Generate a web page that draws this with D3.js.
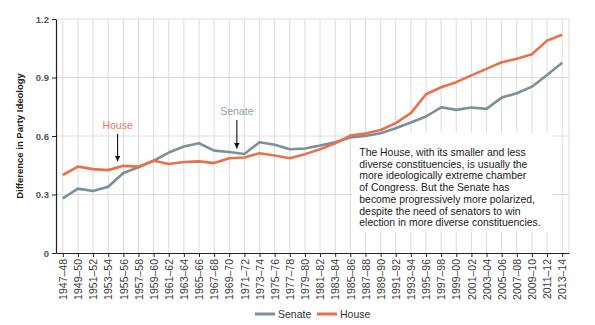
<!DOCTYPE html>
<html>
<head>
<meta charset="utf-8">
<script src="https://cdn.jsdelivr.net/npm/d3@7"></script>
<style>
  body { margin: 0; background: #fff; }
  text { font-family: "Liberation Sans", Arial, sans-serif; }
</style>
</head>
<body>
<div id="chart"></div>
<script>
// congress sessions
var sessions = ["1947–48","1949–50","1951–52","1953–54","1955–56","1957–58","1959–60","1961–62",
  "1963–64","1965–66","1967–68","1969–70","1971–72","1973–74","1975–76","1977–78","1979–80",
  "1981–82","1983–84","1985–86","1987–88","1989–90","1991–92","1993–94","1995–96","1997–98",
  "1999–00","2001–02","2003–04","2005–06","2007–08","2009–10","2011–12","2013–14"];

var senate = [0.28,0.33,0.318,0.34,0.41,0.44,0.473,0.515,0.546,0.563,0.525,0.518,0.508,0.568,
  0.555,0.532,0.536,0.551,0.568,0.592,0.600,0.614,0.640,0.669,0.700,0.747,0.734,0.746,0.739,
  0.797,0.819,0.853,0.913,0.976];

var house = [0.40,0.443,0.43,0.425,0.447,0.443,0.473,0.456,0.467,0.47,0.461,0.486,0.49,0.512,
  0.50,0.486,0.507,0.532,0.563,0.602,0.613,0.631,0.666,0.717,0.814,0.85,0.876,0.911,0.944,
  0.978,0.996,1.019,1.089,1.119];

var yTicks = [0, 0.3, 0.6, 0.9, 1.2];

var senateColor = "#7a909b",
    houseColor = "#e8714b";

var margin = {top: 19, right: 26, bottom: 72, left: 56},
    width = 595 - margin.left - margin.right,
    height = 325 - margin.top - margin.bottom;

var svg = d3.select("#chart")
  .append("svg")
    .attr("width", width + margin.left + margin.right)
    .attr("height", height + margin.top + margin.bottom)
  .append("g")
    .attr("transform", "translate(" + margin.left + "," + margin.top + ")");

var x = d3.scalePoint()
  .domain(sessions)
  .range([0, width])
  .padding(0.45);

var y = d3.scaleLinear()
  .domain([0, 1.2])
  .range([height, 0]);

// grid
svg.append("g")
  .selectAll("line.v")
  .data(sessions)
  .enter().append("line")
    .attr("x1", function(d) { return x(d); })
    .attr("x2", function(d) { return x(d); })
    .attr("y1", 0)
    .attr("y2", height)
    .attr("stroke", "#dcdcdc")
    .attr("stroke-width", 1);

svg.append("g")
  .selectAll("line.h")
  .data(yTicks.slice(1))
  .enter().append("line")
    .attr("x1", 0)
    .attr("x2", width)
    .attr("y1", function(d) { return y(d); })
    .attr("y2", function(d) { return y(d); })
    .attr("stroke", "#dcdcdc")
    .attr("stroke-width", 1);

svg.append("line")
  .attr("x1", width).attr("x2", width)
  .attr("y1", 0).attr("y2", height)
  .attr("stroke", "#dcdcdc");

// white box behind the note (covers grid only)
var noteX = x("1985–86") + 9;
svg.append("rect")
  .attr("x", noteX - 7)
  .attr("y", 114)
  .attr("width", 200)
  .attr("height", 99)
  .attr("fill", "#fff");

// lines
var line = d3.line()
  .x(function(d, i) { return x(sessions[i]); })
  .y(function(d) { return y(d); });

svg.append("path")
  .datum(senate)
  .attr("fill", "none")
  .attr("stroke", senateColor)
  .attr("stroke-width", 2.6)
  .attr("stroke-linejoin", "round")
  .attr("d", line);

svg.append("path")
  .datum(house)
  .attr("fill", "none")
  .attr("stroke", houseColor)
  .attr("stroke-width", 2.6)
  .attr("stroke-linejoin", "round")
  .attr("d", line);

// axes
var xAxis = svg.append("g")
  .attr("transform", "translate(0," + height + ")")
  .call(d3.axisBottom(x).tickSize(4).tickSizeOuter(0));

xAxis.selectAll("text")
  .attr("transform", "rotate(-90)")
  .attr("x", -6)
  .attr("y", 0)
  .attr("dy", "0.35em")
  .style("text-anchor", "end")
  .style("font-size", "10.5px")
  .attr("fill", "#3a3a3a");

var yAxis = svg.append("g")
  .call(d3.axisLeft(y).tickValues(yTicks).tickSize(4).tickSizeOuter(0)
    .tickFormat(function(d) { return d === 0 ? "0" : d3.format(".1f")(d); }));

yAxis.selectAll("text")
  .style("font-size", "9.5px")
  .style("font-weight", "bold")
  .attr("fill", "#555");

svg.selectAll(".domain").attr("stroke", "#222").attr("stroke-width", 1.2);
svg.selectAll(".tick line").attr("stroke", "#222");

svg.append("text")
  .attr("transform", "rotate(-90)")
  .attr("x", -117)
  .attr("y", -33)
  .attr("text-anchor", "middle")
  .style("font-size", "9.5px")
  .style("font-weight", "bold")
  .attr("fill", "#222")
  .text("Difference in Party Ideology");

// note text
var note = ["The House, with its smaller and less",
  "diverse constituencies, is usually the",
  "more ideologically extreme chamber",
  "of Congress. But the Senate has",
  "become progressively more polarized,",
  "despite the need of senators to win",
  "election in more diverse constituencies."];

svg.append("g")
  .selectAll("text")
  .data(note)
  .enter().append("text")
    .attr("x", noteX)
    .attr("y", function(d, i) { return 137 + i * 11.7; })
    .style("font-size", "10.4px")
    .attr("fill", "#1a1a1a")
    .text(function(d) { return d; });

// callouts
svg.append("defs").append("marker")
  .attr("id", "arrow")
  .attr("viewBox", "0 0 10 10")
  .attr("refX", 10).attr("refY", 5)
  .attr("markerWidth", 5).attr("markerHeight", 5)
  .attr("orient", "auto")
  .append("path")
    .attr("d", "M0,0L10,5L0,10z")
    .attr("fill", "#111");

function callout(label, idx, val, color, labelY) {
  var px = x(sessions[0]) + idx * x.step();
  svg.append("text")
    .attr("x", px)
    .attr("y", labelY)
    .attr("text-anchor", "middle")
    .style("font-size", "10.5px")
    .attr("fill", color)
    .text(label);
  svg.append("line")
    .attr("x1", px).attr("x2", px)
    .attr("y1", labelY + 5)
    .attr("y2", y(val) - 3)
    .attr("stroke", "#111")
    .attr("stroke-width", 1.1)
    .attr("marker-end", "url(#arrow)");
}

callout("House", 3.62, 0.455, "#e9785a", 110);
callout("Senate", 11.5, 0.52, "#8ea2ad", 96);

// legend
var legend = svg.append("g")
  .attr("transform", "translate(199," + (height + 61) + ")");

var items = [["Senate", senateColor], ["House", houseColor]];
var offs = [0, 62];
items.forEach(function(it, i) {
  var g = legend.append("g").attr("transform", "translate(" + offs[i] + ",0)");
  g.append("line")
    .attr("x1", 0).attr("x2", 20)
    .attr("stroke", it[1])
    .attr("stroke-width", 3);
  g.append("text")
    .attr("x", 23)
    .attr("dy", "0.35em")
    .style("font-size", "10.5px")
    .attr("fill", "#333")
    .text(it[0]);
});
</script>
</body>
</html>
